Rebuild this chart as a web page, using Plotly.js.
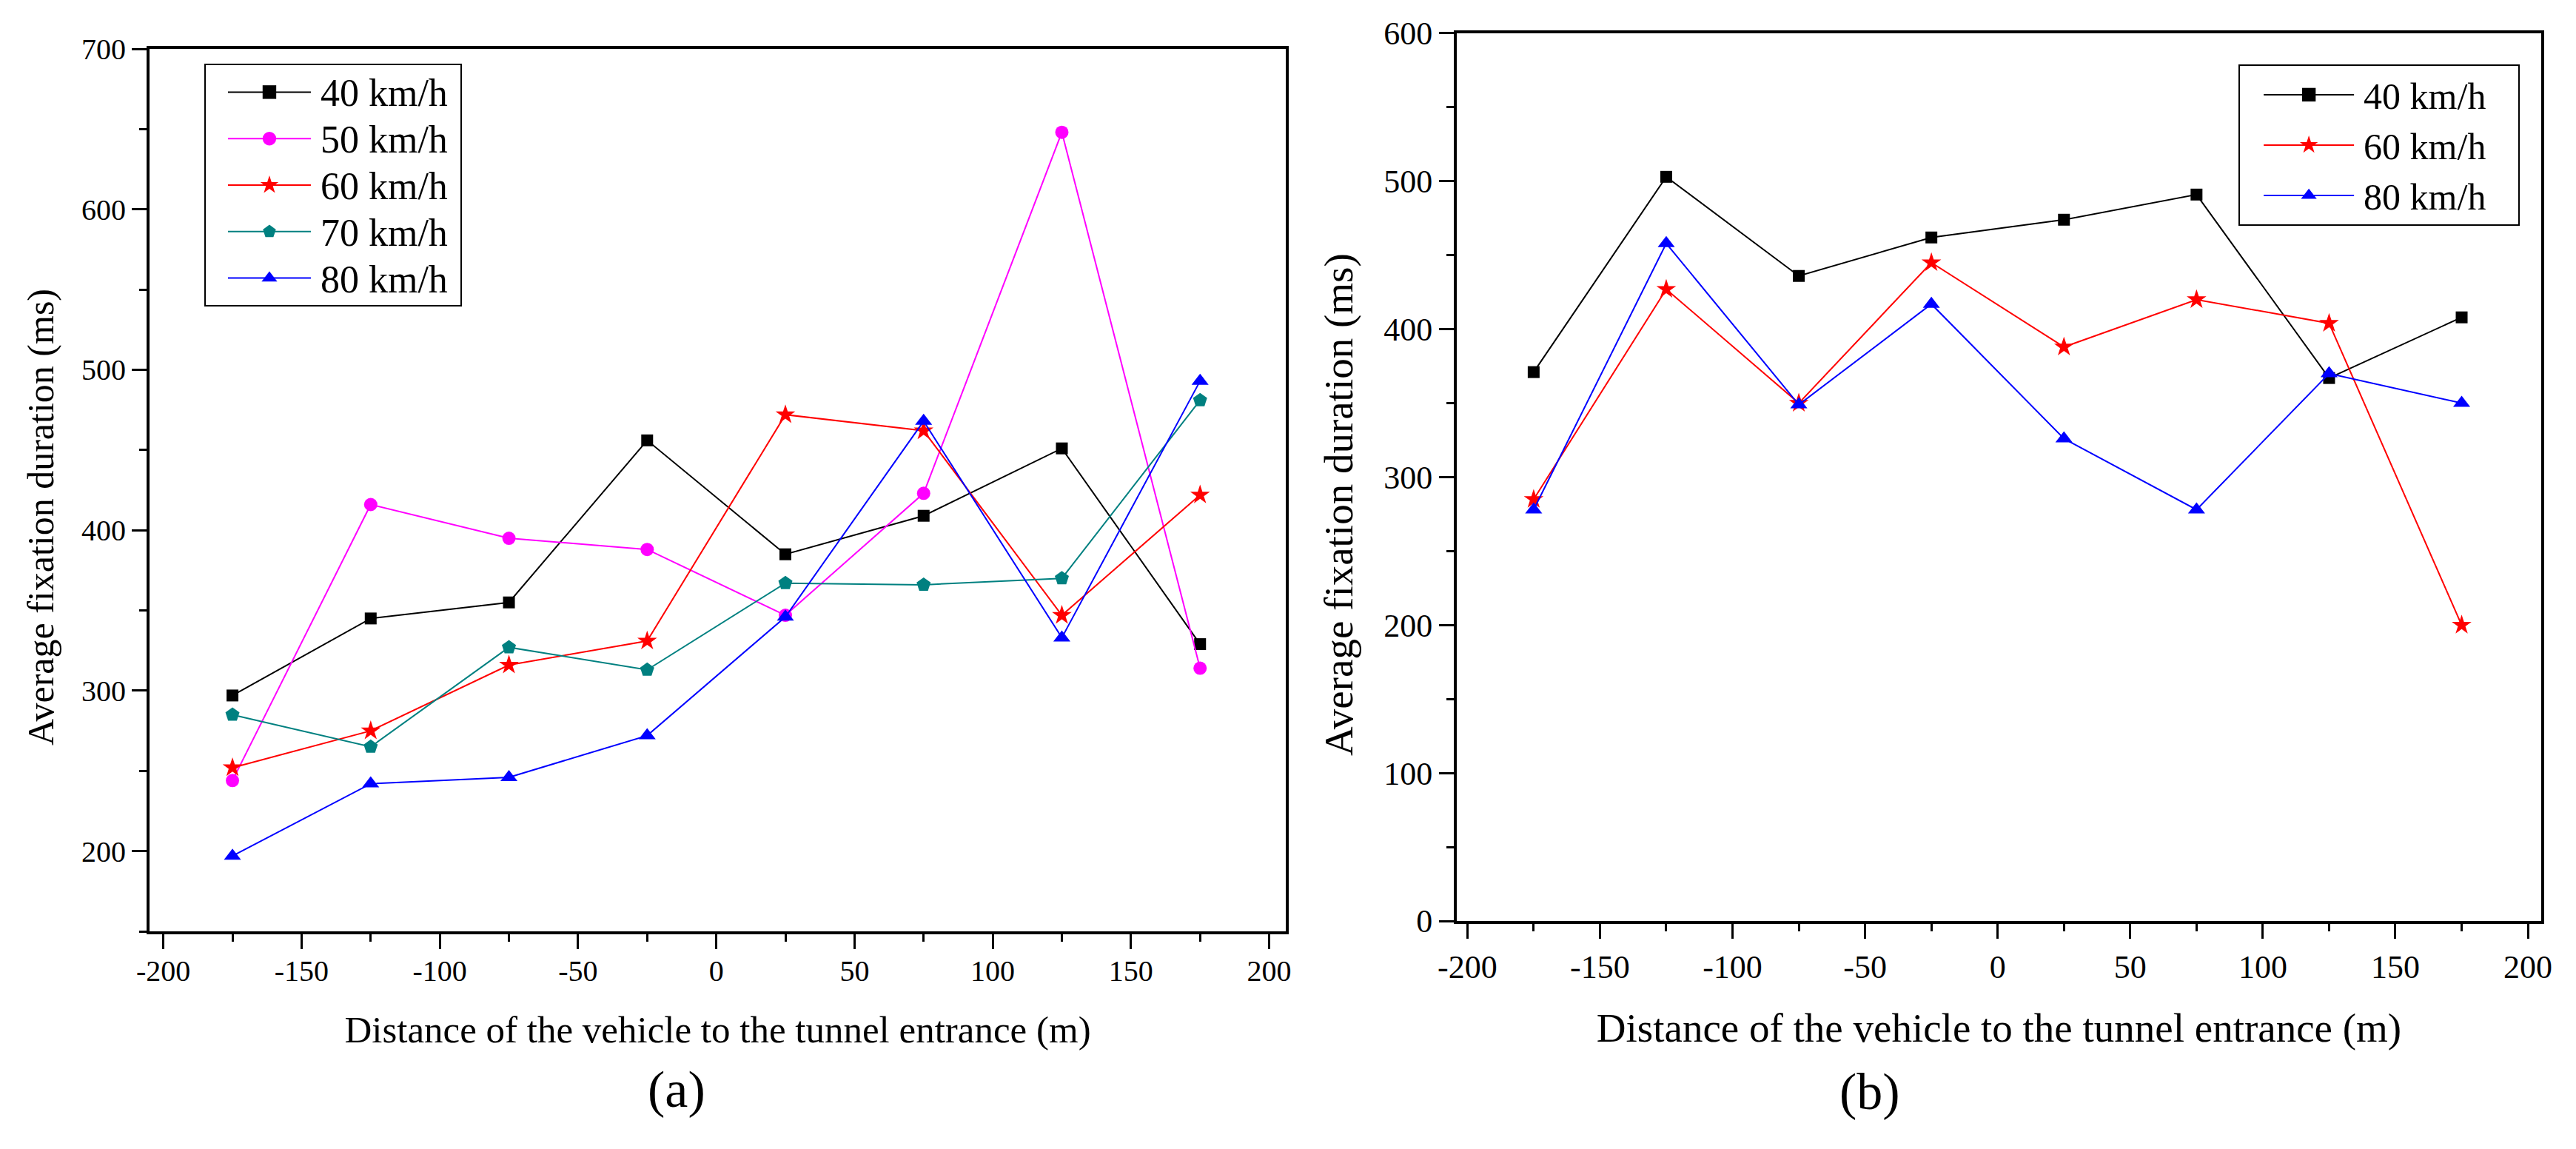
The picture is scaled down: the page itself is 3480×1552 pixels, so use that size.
<!DOCTYPE html>
<html>
<head>
<meta charset="utf-8">
<script src="https://cdn.plot.ly/plotly-3.0.1.min.js"></script>
<style>
  html, body { margin: 0; padding: 0; background: #fff; }
  #myDiv { width: 3480px; height: 1552px; }
</style>
</head>
<body>
<div id="myDiv"></div>
<script>
// Distance of the vehicle to the tunnel entrance (m)
let distances = [-175, -125, -75, -25, 25, 75, 125, 175];

// (a) average fixation duration (ms)
let a40 = [297, 345, 355, 456, 385, 409, 451, 329];
let a50 = [244, 416, 395, 388, 347, 423, 648, 314];
let a60 = [252, 275, 316, 331, 472, 462, 347, 422];
let a70 = [285, 265, 327, 313, 367, 366, 370, 481];
let a80 = [197, 242, 246, 272, 346, 468, 333, 493];

// (b) average fixation duration (ms)
let b40 = [371, 503, 436, 462, 474, 491, 367, 408];
let b60 = [285, 427, 350, 445, 388, 420, 404, 200];
let b80 = [278, 458, 349, 417, 326, 278, 370, 350];

let seriesNames = ['40 km/h', '50 km/h', '60 km/h', '70 km/h', '80 km/h'];

// x tick labels with a plain hyphen, as in the original
let xTickVals = [-200, -150, -100, -50, 0, 50, 100, 150, 200];
let xTickText = ['-200', '-150', '-100', '-50', '0', '50', '100', '150', '200'];

// inward ticks on the top and right frame
let topTicks = [-175, -125, -75, -25, 25, 75, 125, 175];
let rightTicksA = [250, 350, 450, 550, 650];
let rightTicksB = [50, 150, 250, 350, 450, 550];

const FONT = '"Liberation Serif", "DejaVu Serif", serif';

function line(x, y, name, color, symbol, size, xa, ya, legend) {
    return {
        x: x,
        y: y,
        name: name,
        xaxis: xa,
        yaxis: ya,
        legend: legend,
        mode: 'lines+markers',
        type: 'scatter',
        hoverinfo: 'none',
        line: { color: color, width: 2 },
        marker: { color: color, symbol: symbol, size: size, line: { width: 0 } }
    };
}

let traces = [
    line(distances, a40, seriesNames[0], '#000000', 'square', 16, 'x', 'y', 'legend'),
    line(distances, a50, seriesNames[1], '#ff00ff', 'circle', 18, 'x', 'y', 'legend'),
    line(distances, a60, seriesNames[2], '#ff0000', 'star', 20, 'x', 'y', 'legend'),
    line(distances, a70, seriesNames[3], '#008080', 'pentagon', 20, 'x', 'y', 'legend'),
    line(distances, a80, seriesNames[4], '#0000ff', 'triangle-up', 20, 'x', 'y', 'legend'),
    line(distances, b40, seriesNames[0], '#000000', 'square', 16, 'x2', 'y2', 'legend2'),
    line(distances, b60, seriesNames[2], '#ff0000', 'star', 20, 'x2', 'y2', 'legend2'),
    line(distances, b80, seriesNames[4], '#0000ff', 'triangle-up', 20, 'x2', 'y2', 'legend2')
];

function mainX(domain, range, anchor, fs, tfs, standoff, labelShift) {
    return {
        domain: domain, anchor: anchor, range: range,
        tickmode: 'array', tickvals: xTickVals, ticktext: xTickText,
        ticks: 'outside', ticklen: 20, tickwidth: 3, tickcolor: '#000',
        ticklabelstandoff: labelShift,
        minor: { tick0: 0, dtick: 25, ticks: 'outside', ticklen: 10, tickwidth: 3, tickcolor: '#000' },
        showline: true, linewidth: 4, linecolor: '#000', mirror: true,
        showgrid: false, zeroline: false,
        tickfont: { family: FONT, size: fs, color: '#000' },
        title: { text: 'Distance of the vehicle to the tunnel entrance (m)', standoff: standoff,
                 font: { family: FONT, size: tfs, color: '#000' } }
    };
}

function mainY(domain, range, anchor, fs) {
    return {
        domain: domain, anchor: anchor, range: range,
        tick0: 0, dtick: 100,
        ticks: 'outside', ticklen: 20, tickwidth: 3, tickcolor: '#000',
        minor: { tick0: 0, dtick: 50, ticks: 'outside', ticklen: 10, tickwidth: 3, tickcolor: '#000' },
        showline: true, linewidth: 4, linecolor: '#000', mirror: true,
        showgrid: false, zeroline: false,
        tickfont: { family: FONT, size: fs, color: '#000' }
    };
}

function frameTicks(over, anchor, side, range, vals) {
    return {
        overlaying: over, anchor: anchor, side: side, range: range,
        tickmode: 'array', tickvals: vals, showticklabels: false,
        ticks: 'inside', ticklen: 10, tickwidth: 3, tickcolor: '#000',
        showline: false, showgrid: false, zeroline: false
    };
}

let xRangeA = [-205, 206];
let yRangeA = [150, 700];
let xRangeB = [-204, 205];
let yRangeB = [0, 600];

let legendStyle = {
    xanchor: 'left', yanchor: 'top',
    bgcolor: '#fff', bordercolor: '#000', borderwidth: 2,
    tracegroupgap: 0
};

function textNote(text, x, y, size, angle) {
    return { text: text, xref: 'paper', yref: 'paper', x: x, y: y,
             xanchor: 'center', yanchor: 'middle', showarrow: false, textangle: angle || 0,
             font: { family: FONT, size: size, color: '#000' } };
}

let layout = {
    width: 3480,
    height: 1552,
    margin: { l: 0, r: 0, t: 0, b: 0 },
    paper_bgcolor: '#fff',
    plot_bgcolor: '#fff',
    font: { family: FONT, color: '#000' },
    xaxis: mainX([0.05805, 0.49914], xRangeA, 'y', 40, 51, 40, -5),
    yaxis: mainY([0.18943, 0.95747], yRangeA, 'x', 40),
    xaxis2: mainX([0.56552, 0.98649], xRangeB, 'y2', 44, 55, 40, 0),
    yaxis2: mainY([0.19845, 0.97101], yRangeB, 'x2', 44),
    xaxis3: frameTicks('x', 'y', 'top', xRangeA, topTicks),
    yaxis3: frameTicks('y', 'x', 'right', yRangeA, rightTicksA),
    xaxis4: frameTicks('x2', 'y2', 'top', xRangeB, topTicks),
    yaxis4: frameTicks('y2', 'x2', 'right', yRangeB, rightTicksB),
    legend: Object.assign({ x: 0.0793, y: 0.9446, itemwidth: 145,
                            font: { family: FONT, size: 46, color: '#000' } }, legendStyle),
    legend2: Object.assign({ x: 0.869, y: 0.944, itemwidth: 157,
                             font: { family: FONT, size: 50, color: '#000' } }, legendStyle),
    annotations: [
        textNote('Average fixation duration (ms)', 0.0158, 0.5503, 50, -90),
        textNote('Average fixation duration (ms)', 0.5195, 0.5612, 55, -90),
        textNote('(a)', 0.2626, 0.052, 70),
        textNote('(b)', 0.7259, 0.050, 70)
    ],
    showlegend: true
};

// legend like the original: long line sample, marker in the middle,
// text a bit larger than the row spacing alone would give
function styleLegend(id, lineStart, lineLen, markX, textSize, boxWidth) {
    let root = document.querySelector('g.' + id);
    if (!root) return;
    root.querySelectorAll('g.traces').forEach(function(g) {
        g.querySelectorAll('g.legendlines path').forEach(function(p) {
            p.setAttribute('d', 'M' + lineStart + ',0h' + lineLen);
        });
        g.querySelectorAll('g.legendpoints path.scatterpts').forEach(function(p) {
            p.setAttribute('transform', 'translate(' + markX + ',0) scale(1.15)');
        });
        g.querySelectorAll('text.legendtext').forEach(function(t) {
            t.style.fontSize = textSize + 'px';
            t.setAttribute('y', Math.round(textSize * 0.36));
        });
    });
    // the wider text must not be cut by the legend's scroll clip
    root.querySelectorAll('g.scrollbox').forEach(function(s) {
        s.removeAttribute('clip-path');
    });
    let bg = root.querySelector('rect.bg');
    if (bg) bg.setAttribute('width', boxWidth);
}

function fixLegends() {
    styleLegend('legend', 30, 112, 86, 52, 346);
    styleLegend('legend2', 32, 122, 93, 56, 378);
}

let gd = document.getElementById('myDiv');
Plotly.newPlot(gd, traces, layout, { displayModeBar: false, staticPlot: true }).then(function() {
    fixLegends();
    gd.on('plotly_afterplot', fixLegends);
});
</script>
</body>
</html>
